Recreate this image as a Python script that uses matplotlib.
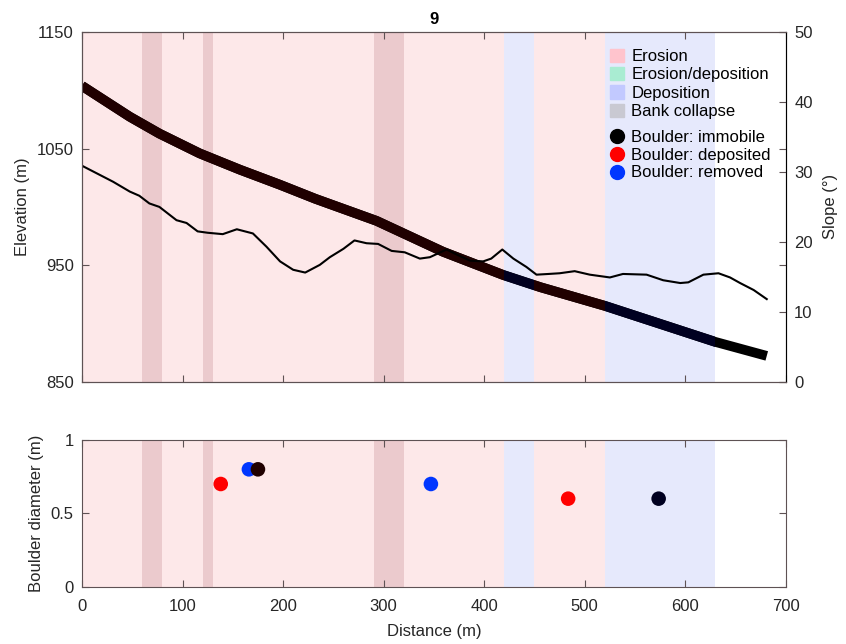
import matplotlib.pyplot as plt
import matplotlib.patches as mpatches
from matplotlib.lines import Line2D
import numpy as np

plt.rcParams['font.family'] = ['Liberation Sans', 'DejaVu Sans']
plt.rcParams['font.size'] = 12

# zones along the channel (m)
erosion_spans = [(0, 420), (450, 520)]
deposition_spans = [(420, 450), (520, 630)]
collapse_spans = [(60, 80), (120, 130), (290, 320)]

# long profile (elevation, m)
elev_dist = [0, 47.5, 77, 117, 157, 197, 232, 293, 359, 419, 456, 520, 630, 681]
elev = [1104, 1077.5, 1063, 1046, 1032, 1019, 1007, 988, 961.5, 941.5, 931, 915, 884, 872]

# slope (deg)
slope_dist = [0, 31, 47.5, 57, 67, 77, 94, 104, 115, 125, 140, 154, 170, 183.5, 197, 210,
              222, 236.5, 246.5, 260, 271, 283, 294.5, 308, 321, 336, 346, 362.5, 372.5,
              386, 399, 407, 418, 429, 442, 452, 464, 475, 490, 505, 525, 538, 561.5,
              578, 595, 603, 618, 633, 644.5, 654.5, 668, 681]
slope = [30.9, 28.6, 27.2, 26.6, 25.5, 25.0, 23.1, 22.7, 21.5, 21.3, 21.1, 21.8, 21.2, 19.3,
         17.2, 16.0, 15.6, 16.7, 17.8, 19.0, 20.2, 19.8, 19.7, 18.7, 18.5, 17.6, 17.8, 18.9,
         18.2, 17.3, 17.2, 17.6, 18.9, 17.6, 16.4, 15.3, 15.4, 15.5, 15.8, 15.3, 14.9, 15.4,
         15.3, 14.5, 14.1, 14.2, 15.3, 15.5, 14.9, 14.1, 13.1, 11.8]

# boulders
boulder_dist = [138, 483.5, 166, 347, 175, 573.5]
boulder_diam = [0.7, 0.6, 0.8, 0.7, 0.8, 0.6]
boulder_status = ['deposited', 'deposited', 'removed', 'removed', 'immobile', 'immobile']

ero_bg = '#fde8e9'
dep_bg = '#e6e9fc'
col_bg = '#ebcacd'
spine_col = '#5e5254'
text_col = '#262626'


def zone_tint(x):
    for a, b in erosion_spans:
        if a <= x <= b:
            return '#200000'
    for a, b in deposition_spans:
        if a <= x <= b:
            return '#000020'
    return 'black'


def draw_zones(ax):
    for a, b in erosion_spans:
        ax.axvspan(a, b, color=ero_bg, lw=0, zorder=0)
    for a, b in deposition_spans:
        ax.axvspan(a, b, color=dep_bg, lw=0, zorder=0)
    for a, b in collapse_spans:
        ax.axvspan(a, b, color=col_bg, lw=0, zorder=0.5)


def style(ax):
    for s in ax.spines.values():
        s.set_color(spine_col)
    ax.tick_params(direction='in', length=5, colors=spine_col, labelcolor=text_col,
                   top=True, labelsize=12, pad=6)


fig = plt.figure(figsize=(8.46, 6.44), dpi=100)
ax = fig.add_axes([0.0969, 0.4076, 0.832, 0.5422])
ax2 = ax.twinx()
axb = fig.add_axes([0.0969, 0.089, 0.832, 0.2278])

# top panel
draw_zones(ax)
line_kw = dict(lw=7, solid_capstyle='butt', solid_joinstyle='round')
ax.plot(elev_dist, elev, color='black', zorder=2, **line_kw)
for spans, c in [(erosion_spans, '#200000'), (deposition_spans, '#000020')]:
    for a, b in spans:
        ln, = ax.plot(elev_dist, elev, color=c, zorder=3, **line_kw)
        clip = mpatches.Rectangle((a, 0), b - a, 1, transform=ax.get_xaxis_transform())
        ln.set_clip_path(clip)
ax2.plot(slope_dist, slope, color='black', lw=1.5)

ax.set_xlim(0, 700)
ax.set_ylim(850, 1150)
ax.set_yticks([850, 950, 1050, 1150])
ax.set_xticks(range(0, 701, 100))
ax.set_xticklabels([])
ax2.set_ylim(0, 50)
ax2.set_yticks(range(0, 51, 10))
style(ax)
ax.tick_params(right=True)
style(ax2)
ax2.tick_params(top=False)
ax2.spines['right'].set_color('black')
ax.set_ylabel('Elevation (m)', color=text_col, labelpad=5)
ax2.set_ylabel('Slope (°)', color=text_col, labelpad=7)
ax.set_title('9', fontweight='bold', fontsize=12, pad=6)

zone_handles = [
    mpatches.Patch(color='#ffc4cd', label='Erosion'),
    mpatches.Patch(color='#a9ecd2', label='Erosion/deposition'),
    mpatches.Patch(color='#c2c9ff', label='Deposition'),
    mpatches.Patch(color='#c9c9d2', label='Bank collapse'),
]
leg1 = ax2.legend(handles=zone_handles, loc='upper left', bbox_to_anchor=(0.74, 0.972),
                  frameon=False, fontsize=12, handlelength=0.85, handleheight=0.85,
                  handletextpad=0.45, labelspacing=0.17, borderaxespad=0)
ax2.add_artist(leg1)
marker_handles = [
    Line2D([], [], ls='', marker='o', ms=10, color='black', label='Boulder: immobile'),
    Line2D([], [], ls='', marker='o', ms=10, color='#ff0000', label='Boulder: deposited'),
    Line2D([], [], ls='', marker='o', ms=10, color='#0036ff', label='Boulder: removed'),
]
ax2.legend(handles=marker_handles, loc='upper left', bbox_to_anchor=(0.74, 0.74),
           frameon=False, fontsize=12, handlelength=0.85, handletextpad=0.45,
           labelspacing=0.17, borderaxespad=0)

# bottom panel
draw_zones(axb)
status_col = {'deposited': '#ff0000', 'removed': '#0036ff'}
for d, s, st in zip(boulder_dist, boulder_diam, boulder_status):
    c = status_col.get(st, zone_tint(d))
    axb.scatter(d, s, s=110, color=c, edgecolors='none', zorder=3)
axb.set_xlim(0, 700)
axb.set_ylim(0, 1)
axb.set_yticks([0, 0.5, 1])
axb.set_yticklabels(['0', '0.5', '1'])
axb.set_xticks(range(0, 701, 100))
style(axb)
axb.tick_params(right=True)
axb.tick_params(axis='x', pad=9)
axb.set_xlabel('Distance (m)', color=text_col, labelpad=7)
axb.set_ylabel('Boulder diameter (m)', color=text_col, labelpad=5)

fig.savefig('out.png', dpi=100)
